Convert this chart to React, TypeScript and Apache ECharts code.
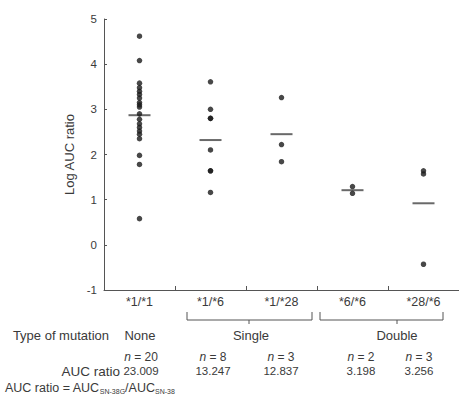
import React, { useEffect, useRef } from "react";
import * as echarts from "echarts";

const categories = ["*1/*1", "*1/*6", "*1/*28", "*6/*6", "*28/*6"];
const g11 = [4.62, 4.08, 3.58, 3.48, 3.4, 3.33, 3.25, 3.15, 3.1, 3.05, 2.9, 2.78, 2.68, 2.6, 2.52, 2.45, 2.35, 1.98, 1.78, 0.58];
const g16 = [3.61, 3.0, 2.8, 2.8, 2.1, 1.64, 1.64, 1.16];
const g128 = [3.26, 2.22, 1.84];
const g66 = [1.29, 1.14];
const g286 = [1.64, 1.57, -0.43];
const groups = [g11, g16, g128, g66, g286];
const means = [2.87, 2.32, 2.45, 1.21, 0.92];
const mutationTypes = ["None", "Single", "Double"];
const nLabels = ["20", "8", "3", "2", "3"];
const aucRatios = ["23.009", "13.247", "12.837", "3.198", "3.256"];

const FONT = "Liberation Sans, Arial, sans-serif";
const TXT = "#3a3a3a";

export default function App() {
  const ref = useRef<HTMLDivElement>(null);
  useEffect(() => {
    if (!ref.current) return;
    const chart = echarts.init(ref.current, undefined, { renderer: "svg" });
    const points: [string, number][] = [];
    groups.forEach((g, i) => g.forEach((v) => points.push([categories[i], v])));
    const meanPts = means.map((m, i) => [categories[i], m]);

    const nX = [141, 213, 281, 361, 419];
    const txt = (x: number, y: number, text: string, align: string, size = 13) => ({
      type: "text",
      x,
      y,
      style: { text, fill: TXT, font: `${size}px ${FONT}`, align, verticalAlign: "middle" },
      silent: true,
    });

    const graphics: any[] = [
      {
        type: "polyline",
        shape: { points: [[187, 312], [187, 320], [312, 320], [312, 312]] },
        style: { stroke: "#555", lineWidth: 1, fill: null },
      },
      { type: "line", shape: { x1: 249, y1: 320, x2: 249, y2: 324 }, style: { stroke: "#555", lineWidth: 1 } },
      {
        type: "polyline",
        shape: { points: [[320, 312], [320, 320], [443, 320], [443, 312]] },
        style: { stroke: "#555", lineWidth: 1, fill: null },
      },
      { type: "line", shape: { x1: 397, y1: 320, x2: 397, y2: 324 }, style: { stroke: "#555", lineWidth: 1 } },
      txt(109, 335, "Type of mutation", "right"),
      txt(140, 335, mutationTypes[0], "center"),
      txt(251, 335, mutationTypes[1], "center"),
      txt(397, 335, mutationTypes[2], "center"),
      txt(120, 371, "AUC ratio", "right", 13.5),
      ...nLabels.map((n, i) => ({
        type: "text",
        x: nX[i],
        y: 357,
        style: {
          text: `{i|n} = ${n}`,
          fill: TXT,
          font: `12px ${FONT}`,
          align: "center",
          verticalAlign: "middle",
          rich: { i: { fontStyle: "italic", fontSize: 12, fontFamily: FONT, fill: TXT } },
        },
      })),
      ...aucRatios.map((a, i) => txt(nX[i], 371, a, "center", 11.5)),
      {
        type: "text",
        x: 5,
        y: 388,
        style: {
          text: "{m|AUC ratio = AUC}{s|SN-38G}{m|/AUC}{s|SN-38}",
          fill: TXT,
          align: "left",
          verticalAlign: "middle",
          rich: {
            m: { fontSize: 12.5, fontFamily: FONT, fill: TXT, lineHeight: 14, verticalAlign: "top" },
            s: { fontSize: 7, fontFamily: FONT, fill: TXT, lineHeight: 14, verticalAlign: "bottom", padding: [6, 0, 0, 0] },
          },
        },
      },
    ];

    chart.setOption({
      animation: false,
      grid: { left: 104, top: 19, width: 355, height: 271 },
      xAxis: {
        type: "category",
        position: "bottom",
        data: categories,
        boundaryGap: true,
        axisLine: { show: true, onZero: false, lineStyle: { color: "#555", width: 1 } },
        axisTick: { show: true, inside: true, length: 4, lineStyle: { color: "#555" } },
        axisLabel: { color: TXT, fontSize: 12.5, fontFamily: FONT, margin: 5 },
      },
      yAxis: {
        type: "value",
        position: "left",
        min: -1,
        max: 5,
        interval: 1,
        name: "Log AUC ratio",
        nameLocation: "middle",
        nameGap: 13,
        nameRotate: 90,
        nameTextStyle: { color: TXT, fontSize: 13, fontFamily: FONT },
        splitLine: { show: false },
        axisLine: { show: true, onZero: false, lineStyle: { color: "#555", width: 1 } },
        axisTick: { show: true, inside: true, length: 3, lineStyle: { color: "#555" } },
        axisLabel: { color: TXT, fontSize: 11.5, fontFamily: FONT, margin: 7 },
      },
      series: [
        {
          type: "scatter",
          data: points,
          symbol: "circle",
          symbolSize: 5.5,
          itemStyle: { color: "#1a1a1a" },
          silent: true,
        },
        {
          type: "scatter",
          data: meanPts,
          symbol: "rect",
          symbolSize: [22, 2],
          itemStyle: { color: "#444" },
          silent: true,
          z: 1,
        },
      ],
      graphic: graphics,
    });
    return () => chart.dispose();
  }, []);
  return (
    <div
      ref={ref}
      style={{ position: "absolute", left: 0, top: 0, width: 459, height: 404, background: "#fff" }}
    />
  );
}
